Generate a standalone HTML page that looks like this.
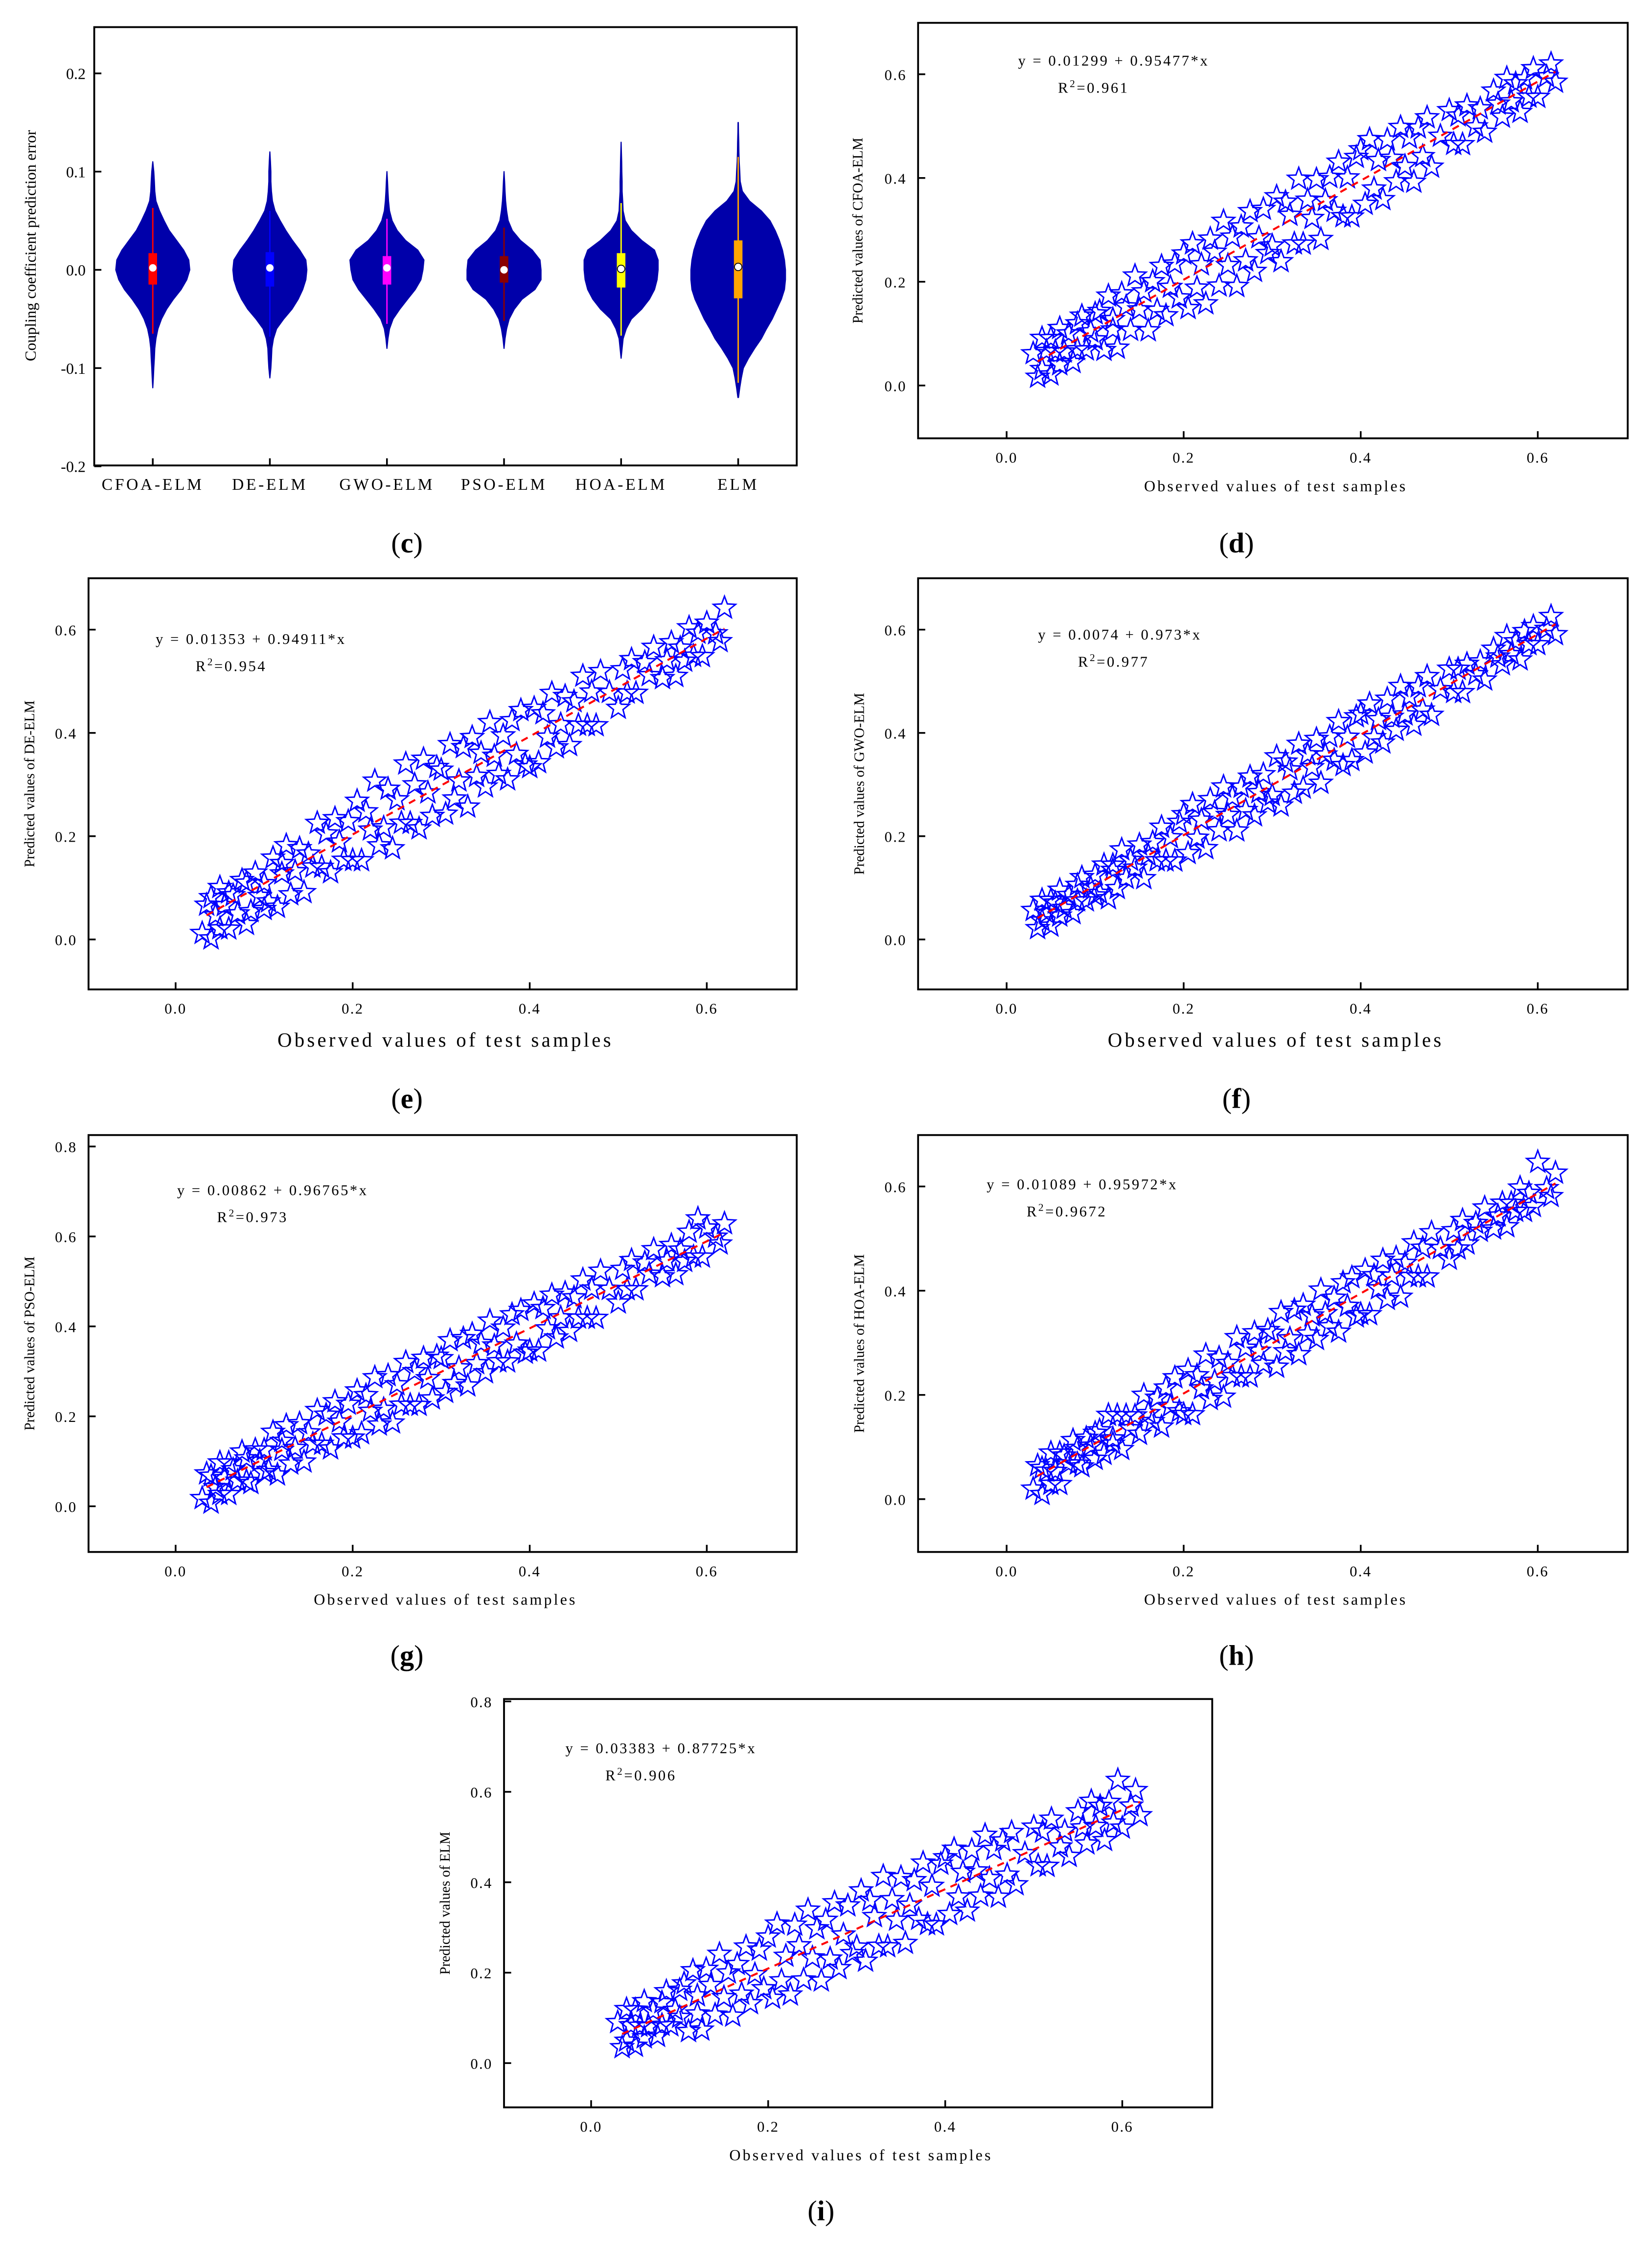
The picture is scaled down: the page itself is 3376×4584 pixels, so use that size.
<!DOCTYPE html>
<html><head><meta charset="utf-8"><style>
html,body{margin:0;padding:0;background:#fff;}
svg{display:block;}
text{font-family:"Liberation Serif",serif;fill:#000;}
</style></head><body>
<svg id="fig" xmlns="http://www.w3.org/2000/svg" width="3376" height="4584" viewBox="0 0 1157 1571">
<rect x="0" y="0" width="1157" height="1571" fill="#fff"/>
</svg>
<script>
// ---------- Violin chart data ----------
const violinModels = ["CFOA-ELM","DE-ELM","GWO-ELM","PSO-ELM","HOA-ELM","ELM"];
const violinLevels = [-0.13,-0.12,-0.11,-0.1,-0.09,-0.08,-0.07,-0.06,-0.05,-0.04,-0.03,-0.02,-0.01,0,0.01,0.02,0.03,0.04,0.05,0.06,0.07,0.08,0.09,0.1,0.11,0.12,0.13,0.14,0.15];
const densCFOA = [0,0,0.01,0.02,0.03,0.04,0.06,0.1,0.17,0.27,0.4,0.55,0.66,0.72,0.7,0.6,0.46,0.32,0.22,0.13,0.06,0.04,0.03,0.02,0,0,0,0,0];
const densDE   = [0,0,0,0.02,0.03,0.04,0.07,0.13,0.27,0.43,0.55,0.64,0.7,0.72,0.7,0.58,0.44,0.31,0.2,0.1,0.05,0.03,0.02,0.02,0.01,0,0,0,0];
const densGWO  = [0,0,0,0,0,0,0.02,0.05,0.12,0.25,0.4,0.55,0.66,0.7,0.72,0.6,0.36,0.2,0.1,0.05,0.03,0.02,0.01,0,0,0,0,0,0];
const densPSO  = [0,0,0,0,0,0,0.02,0.05,0.1,0.2,0.35,0.6,0.72,0.72,0.7,0.55,0.32,0.16,0.08,0.05,0.03,0.02,0.01,0,0,0,0,0,0];
const densHOA  = [0,0,0,0,0,0.02,0.04,0.1,0.2,0.4,0.55,0.65,0.7,0.72,0.72,0.65,0.4,0.2,0.08,0.04,0.03,0.02,0.02,0.015,0.01,0.005,0,0,0];
const densELM  = [0.005,0.03,0.06,0.1,0.2,0.32,0.45,0.55,0.66,0.75,0.84,0.9,0.92,0.92,0.9,0.86,0.8,0.72,0.62,0.45,0.22,0.08,0.04,0.03,0.02,0.015,0.01,0.005,0.002];
const boxQ1 = [-0.015,-0.017,-0.015,-0.013,-0.018,-0.029];
const boxQ3 = [0.017,0.018,0.014,0.014,0.017,0.03];
const boxMedian = [0.002,0.002,0.002,0.0,0.001,0.003];
const whiskerLo = [-0.065,-0.068,-0.055,-0.052,-0.067,-0.115];
const whiskerHi = [0.063,0.06,0.052,0.043,0.068,0.115];
const violinYTicks = [-0.2,-0.1,0.0,0.1,0.2];

// ---------- Scatter data ----------
const observed = [0.03,0.035,0.04,0.04,0.045,0.05,0.05,0.055,0.06,0.06,0.065,0.07,0.075,0.08,0.08,0.085,0.09,0.095,0.1,0.1,
0.105,0.11,0.115,0.12,0.12,0.125,0.13,0.135,0.14,0.145,0.15,0.155,0.16,0.165,0.17,0.175,0.18,0.185,0.19,0.195,
0.2,0.205,0.21,0.215,0.22,0.225,0.23,0.235,0.24,0.245,0.25,0.255,0.26,0.265,0.27,0.275,0.28,0.285,0.29,0.295,
0.3,0.305,0.31,0.315,0.32,0.325,0.33,0.335,0.34,0.345,0.35,0.355,0.36,0.365,0.37,0.375,0.38,0.385,0.39,0.395,
0.4,0.405,0.41,0.415,0.42,0.425,0.43,0.435,0.44,0.445,0.45,0.455,0.46,0.465,0.47,0.475,0.48,0.49,0.5,0.505,
0.51,0.515,0.52,0.53,0.535,0.54,0.55,0.555,0.56,0.565,0.57,0.575,0.58,0.585,0.59,0.595,0.6,0.61,0.615,0.62];
const residCFOA = [0.02,-0.03,0.04,-0.02,0.01,-0.04,0.03,0.0,-0.03,0.04,-0.01,0.02,-0.04,0.03,-0.02,0.04,-0.03,0.0,0.03,-0.02,
0.03,-0.05,0.05,-0.02,0.0,-0.06,0.04,0.01,-0.04,0.06,-0.01,0.02,-0.06,0.03,-0.03,0.05,-0.05,0.0,0.04,-0.03,
0.05,-0.06,0.06,-0.03,0.01,-0.07,0.05,0.02,-0.05,0.07,-0.02,0.03,-0.07,0.04,-0.03,0.06,-0.06,0.0,0.05,-0.04,
-0.03,0.06,-0.07,0.04,0.01,-0.05,0.07,-0.06,0.02,-0.02,0.05,-0.07,0.0,0.04,-0.03,0.06,-0.05,0.02,-0.06,0.05,
0.06,-0.05,0.07,-0.03,0.02,-0.06,0.05,0.01,-0.04,0.06,-0.02,0.03,-0.06,0.04,-0.02,0.05,-0.05,0.0,0.04,-0.03,
0.02,-0.04,0.03,-0.02,0.01,-0.04,0.03,0.0,-0.03,0.04,-0.01,0.02,-0.04,0.02,-0.02,0.03,-0.03,0.0,0.02,-0.02];
const residDE = [-0.03,0.02,-0.05,0.03,-0.01,0.04,-0.04,0.0,0.02,-0.05,0.01,-0.03,0.03,-0.06,0.02,-0.04,0.03,-0.02,0.0,-0.05,
-0.04,0.04,-0.06,0.02,0.0,0.05,-0.05,-0.01,0.03,-0.06,0.01,-0.02,0.06,-0.03,0.03,-0.05,0.05,0.0,-0.04,0.03,
-0.05,0.06,-0.06,0.03,-0.01,0.08,-0.05,-0.02,0.05,-0.07,0.02,-0.03,0.08,-0.04,0.03,-0.06,0.07,0.0,-0.05,0.04,
0.03,-0.06,0.07,-0.04,-0.01,0.05,-0.07,0.06,-0.02,0.02,-0.05,0.07,0.0,-0.04,0.03,-0.06,0.05,-0.02,0.06,-0.05,
-0.06,0.05,-0.06,0.03,-0.02,0.06,-0.05,-0.01,0.04,-0.06,0.02,-0.03,0.06,-0.04,0.02,-0.05,0.05,0.0,-0.04,0.03,
-0.02,0.04,-0.03,0.02,-0.01,0.04,-0.03,0.0,0.03,-0.04,0.01,-0.02,0.04,-0.02,0.02,-0.03,0.03,0.0,-0.02,0.04];
const residGWO = [0.02,-0.02,0.03,-0.01,0.0,-0.03,0.02,0.01,-0.02,0.03,-0.01,0.01,-0.03,0.02,-0.01,0.03,-0.02,0.0,0.02,-0.02,
-0.02,0.03,-0.04,0.02,0.01,-0.03,0.04,-0.02,0.01,-0.01,0.03,-0.04,0.0,0.02,-0.02,0.04,-0.03,0.01,-0.04,0.03,
0.04,-0.04,0.05,-0.02,0.01,-0.05,0.04,0.01,-0.03,0.05,-0.01,0.02,-0.05,0.03,-0.02,0.04,-0.04,0.0,0.03,-0.03,
-0.02,0.05,-0.05,0.03,0.01,-0.04,0.05,-0.04,0.02,-0.01,0.04,-0.05,0.0,0.03,-0.02,0.05,-0.04,0.01,-0.04,0.04,
0.04,-0.04,0.05,-0.02,0.01,-0.04,0.04,0.0,-0.03,0.05,-0.01,0.02,-0.04,0.03,-0.02,0.04,-0.04,0.0,0.03,-0.02,
0.02,-0.03,0.02,-0.01,0.01,-0.03,0.02,0.0,-0.02,0.03,-0.01,0.01,-0.03,0.02,-0.01,0.02,-0.02,0.0,0.02,-0.02];
const residPSO = [-0.02,0.03,-0.04,0.02,-0.01,0.04,-0.03,0.0,0.03,-0.04,0.01,-0.02,0.04,-0.03,0.02,-0.04,0.03,0.0,-0.03,0.02,
-0.03,0.05,-0.05,0.02,0.0,0.05,-0.04,-0.01,0.04,-0.05,0.01,-0.02,0.05,-0.03,0.03,-0.05,0.05,0.0,-0.04,0.03,
-0.05,0.05,-0.05,0.03,-0.01,0.06,-0.05,-0.02,0.05,-0.06,0.02,-0.03,0.06,-0.04,0.03,-0.05,0.05,0.0,-0.05,0.04,
0.03,-0.05,0.06,-0.04,-0.01,0.05,-0.06,0.05,-0.02,0.02,-0.05,0.06,0.0,-0.04,0.03,-0.05,0.05,-0.02,0.05,-0.05,
-0.05,0.05,-0.06,0.03,-0.02,0.05,-0.05,-0.01,0.04,-0.05,0.02,-0.03,0.05,-0.04,0.02,-0.05,0.05,0.0,-0.04,0.03,
-0.02,0.04,-0.03,0.02,-0.01,0.04,-0.03,0.0,0.03,-0.04,0.01,-0.02,0.04,-0.02,0.06,-0.03,0.03,0.0,-0.02,0.02];
const residHOA = [-0.02,0.02,-0.04,0.01,0.0,0.03,-0.03,-0.01,0.02,-0.04,0.01,-0.01,0.03,-0.02,0.01,-0.03,0.02,0.0,-0.03,0.02,
0.02,-0.03,0.04,-0.02,-0.01,0.03,-0.04,0.02,-0.01,0.01,-0.03,0.04,0.0,-0.02,0.02,-0.04,0.03,-0.01,0.04,-0.03,
-0.04,0.04,-0.05,0.02,-0.01,0.05,-0.04,-0.01,0.03,-0.05,0.01,-0.02,0.05,-0.03,0.02,-0.04,0.04,0.0,-0.03,0.03,
0.02,-0.05,0.05,-0.03,-0.01,0.04,-0.05,0.04,-0.02,0.01,-0.04,0.05,0.0,-0.03,0.02,-0.05,0.04,-0.01,0.04,-0.04,
-0.04,0.04,-0.05,0.02,-0.01,0.04,-0.04,0.0,0.03,-0.05,0.01,-0.02,0.04,-0.03,0.02,-0.04,0.04,0.0,-0.03,0.02,
-0.02,0.03,-0.02,0.01,-0.01,0.03,-0.02,0.0,0.02,-0.03,0.01,-0.01,0.03,-0.02,0.01,-0.02,0.06,0.0,-0.02,0.02];
const residELM = [0.03,-0.03,0.05,-0.02,0.01,-0.04,0.04,0.0,-0.03,0.05,-0.01,0.02,-0.04,0.03,-0.02,0.05,-0.03,0.0,0.04,-0.02,
0.05,-0.06,0.07,-0.03,0.01,-0.07,0.06,0.02,-0.05,0.08,-0.02,0.03,-0.07,0.04,-0.03,0.07,-0.06,0.0,0.05,-0.04,
0.07,-0.07,0.09,-0.04,0.01,-0.08,0.07,0.02,-0.06,0.09,-0.02,0.04,-0.08,0.05,-0.04,0.08,-0.07,0.0,0.06,-0.05,
-0.04,0.08,-0.08,0.05,0.01,-0.06,0.09,-0.07,0.03,-0.02,0.07,-0.08,0.0,0.05,-0.04,0.08,-0.06,0.02,-0.07,0.06,
0.07,-0.06,0.08,-0.03,0.02,-0.07,0.06,0.01,-0.05,0.08,-0.02,0.04,-0.07,0.05,-0.03,0.06,-0.06,0.0,0.05,-0.04,
0.03,-0.05,0.05,-0.02,0.01,-0.05,0.04,0.0,-0.04,0.05,-0.01,0.03,-0.05,0.03,-0.02,0.07,-0.04,0.0,0.03,-0.03];
const fitIntercept = [0.01299,0.01353,0.0074,0.00862,0.01089,0.03383];
const fitSlope = [0.95477,0.94911,0.973,0.96765,0.95972,0.87725];
const fitR2 = ["0.961","0.954","0.977","0.973","0.9672","0.906"];
const equationText = ["y = 0.01299 + 0.95477*x","y = 0.01353 + 0.94911*x","y = 0.0074 + 0.973*x","y = 0.00862 + 0.96765*x","y = 0.01089 + 0.95972*x","y = 0.03383 + 0.87725*x"];
const xTickVals = [0.0,0.2,0.4,0.6];
const tickLabels = ["0.0","0.2","0.4","0.6","0.8"];

const svg = document.getElementById('fig');
const NS = "http://www.w3.org/2000/svg";
function mk(tag, attrs, parent){
  const e = document.createElementNS(NS, tag);
  for (const k in attrs) e.setAttribute(k, attrs[k]);
  (parent||svg).appendChild(e);
  return e;
}
function txt(s, attrs, parent){ const t = mk('text', attrs, parent); t.textContent = s; return t; }

// ---------- Violin panel ----------
(function(){
  const g = mk('g', {});
  
  
  const L=66,R=558,T=19,B=326;
  const catX = [107,189,271,353,435,517];
  const yv = v => 189 - v*688;
  const hw = d => d*36;
  const colors = ["#ff0000","#0000ff","#ff00ff","#8b0000","#ffff00","#ffa500"];
  const dens = [densCFOA,densDE,densGWO,densPSO,densHOA,densELM];
  const frame = mk('rect',{x:L,y:T,width:R-L,height:B-T,fill:'none',stroke:'#000','stroke-width':1.3},g);
  
  
  violinYTicks.forEach(v=>{
    const y=yv(v);
    mk('line',{x1:L,y1:y,x2:L+5,y2:y,stroke:'#000','stroke-width':1.2},g);
    const t=txt(v.toFixed(1),{x:L-6,y:y+4,'font-size':11,'text-anchor':'end'},g);
    
    
  });
  violinModels.forEach((m,i)=>{
    const cx=catX[i], d=dens[i];
    let a=0,b=d.length-1;
    while(a<d.length && d[a]===0) a++;
    while(b>0 && d[b]===0) b--;
    const s=Math.max(a-1,0), e=Math.min(b+1,d.length-1);
    let right=[], left=[];
    for(let k=s;k<=e;k++){ const y=yv(violinLevels[k]); right.push([cx+hw(d[k]),y]); left.push([cx-hw(d[k]),y]); }
    const pts = right.concat(left.reverse());
    const vp = mk('polygon',{points:pts.map(p=>p[0].toFixed(1)+','+p[1].toFixed(1)).join(' '),fill:'#0000aa',stroke:'#0000aa','stroke-width':0.8,'stroke-linejoin':'round'},g);
    
    
    const wl = mk('line',{x1:cx,y1:yv(whiskerLo[i]),x2:cx,y2:yv(whiskerHi[i]),stroke:colors[i],'stroke-width':1},g);
    
    
    const bx = mk('rect',{x:cx-3,y:yv(boxQ3[i]),width:6,height:yv(boxQ1[i])-yv(boxQ3[i]),fill:colors[i]},g);
    
    
    const md = mk('circle',{cx:cx,cy:yv(boxMedian[i]),r:2.6,fill:'#fff',stroke:(i>=4?'#000':'none'),'stroke-width':0.6},g);
    
    
    mk('line',{x1:cx,y1:B,x2:cx,y2:B-5,stroke:'#000','stroke-width':1.2},g);
    const cl = txt(m,{x:cx,y:343,'font-size':11.5,'text-anchor':'middle','letter-spacing':1.6},g);
    
    
  });
  const yl = txt('Coupling coefficient prediction error',{x:0,y:0,'font-size':11,'text-anchor':'middle',transform:'translate(25,172) rotate(-90)'},g);
  
  
})();

// ---------- Scatter panels ----------
const resids=[residCFOA,residDE,residGWO,residPSO,residHOA,residELM];
const panels=[
 {id:'d',L:643,R:1140,T:16,B:307,x0:705,x6:1077,y0:270,y6:52,yt:4,ylab:'Predicted values of CFOA-ELM',ylx:604,xlfs:11,xly:344,eqx:713,eqy:46,fs:10.5},
 {id:'e',L:62,R:558,T:405,B:693,x0:123,x6:495,y0:658,y6:441,yt:4,ylab:'Predicted values of DE-ELM',ylx:24,xlfs:14,xly:733,eqx:109,eqy:451,fs:10.5},
 {id:'f',L:643,R:1140,T:405,B:693,x0:705,x6:1077,y0:658,y6:441,yt:4,ylab:'Predicted values of GWO-ELM',ylx:605,xlfs:14,xly:733,eqx:727,eqy:448,fs:10.5},
 {id:'g',L:62,R:558,T:795,B:1087,x0:123,x6:495,y0:1055,y6:866,yt:5,ylab:'Predicted values of PSO-ELM',ylx:24,xlfs:11,xly:1124,eqx:124,eqy:837,fs:10.5},
 {id:'h',L:643,R:1140,T:795,B:1087,x0:705,x6:1077,y0:1050,y6:831,yt:4,ylab:'Predicted values of HOA-ELM',ylx:605,xlfs:11,xly:1124,eqx:691,eqy:833,fs:10.5},
 {id:'i',L:353,R:849,T:1190,B:1476,x0:414,x6:786,y0:1445,y6:1255,yt:5,ylab:'Predicted values of ELM',ylx:315,xlfs:11,xly:1513,eqx:396,eqy:1228,fs:10.5}
];
function starPts(cx,cy,r){
  const p=[];
  for(let k=0;k<10;k++){
    const a=-Math.PI/2+k*Math.PI/5, rr=(k%2===0)?r:r*0.42;
    p.push((cx+rr*Math.cos(a)).toFixed(1)+','+(cy+rr*Math.sin(a)).toFixed(1));
  }
  return p.join(' ');
}
panels.forEach((P,i)=>{
  const g=mk('g',{});
  
  
  const xs=v=>P.x0+v*(P.x6-P.x0)/0.6;
  const ys=v=>P.y0-v*(P.y0-P.y6)/0.6;
  const fr=mk('rect',{x:P.L,y:P.T,width:P.R-P.L,height:P.B-P.T,fill:'none',stroke:'#000','stroke-width':1.3},g);
  
  
  xTickVals.forEach((v,k)=>{
    const x=xs(v);
    mk('line',{x1:x,y1:P.B,x2:x,y2:P.B-5,stroke:'#000','stroke-width':1.2},g);
    const t=txt(tickLabels[k],{x:x,y:P.B+17,'font-size':10.5,'text-anchor':'middle','letter-spacing':0.8},g);
    
    
  });
  for(let k=0;k<P.yt;k++){
    const v=k*0.2, y=ys(v);
    mk('line',{x1:P.L,y1:y,x2:P.L+5,y2:y,stroke:'#000','stroke-width':1.2},g);
    const t=txt(tickLabels[k],{x:P.L-8,y:y+4,'font-size':10.5,'text-anchor':'end','letter-spacing':0.8},g);
    
    
  }
  const res=resids[i];
  observed.forEach((o,k)=>{
    const pred=fitIntercept[i]+fitSlope[i]*o+res[k];
    const s=mk('polygon',{points:starPts(xs(o),ys(pred),8.2),fill:'none',stroke:'#0000ff','stroke-width':1},g);
    
    
  });
  const xa=0.035, xb=0.62;
  const fl=mk('line',{x1:xs(xa),y1:ys(fitIntercept[i]+fitSlope[i]*xa),x2:xs(xb),y2:ys(fitIntercept[i]+fitSlope[i]*xb),stroke:'#ff0000','stroke-width':1.4,'stroke-dasharray':'5,4'},g);
  
  
  const eq=txt(equationText[i],{x:P.eqx,y:P.eqy,'font-size':P.fs,'letter-spacing':1.2},g);
  
  
  const r2=txt('',{x:P.eqx+28,y:P.eqy+19,'font-size':P.fs,'letter-spacing':1.2},g);
  
  
  r2.appendChild(document.createTextNode('R'));
  const sup=mk('tspan',{dy:-4,'font-size':P.fs*0.7},r2); sup.textContent='2';
  const rest=mk('tspan',{dy:4},r2); rest.textContent='='+fitR2[i];
  const yl=txt(P.ylab,{x:0,y:0,'font-size':10,'text-anchor':'middle',transform:'translate('+P.ylx+','+((P.T+P.B)/2)+') rotate(-90)'},g);
  
  
  const xl=txt('Observed values of test samples',{x:(P.L+P.R)/2+2,y:P.xly,'font-size':P.xlfs,'text-anchor':'middle','letter-spacing':P.xlfs>12?1.8:1.4},g);
  
  
});

// ---------- Captions ----------
const captions=[['c',285,387],['d',866,387],['e',285,776],['f',866,776],['g',285,1166],['h',866,1166],['i',575,1555]];
captions.forEach(c=>{
  const t=txt('',{x:c[1],y:c[2],'font-size':20,'text-anchor':'middle'});
  
  
  t.appendChild(document.createTextNode('('));
  const b=mk('tspan',{'font-weight':'bold'},t); b.textContent=c[0];
  t.appendChild(document.createTextNode(')'));
});
</script>
</body></html>
